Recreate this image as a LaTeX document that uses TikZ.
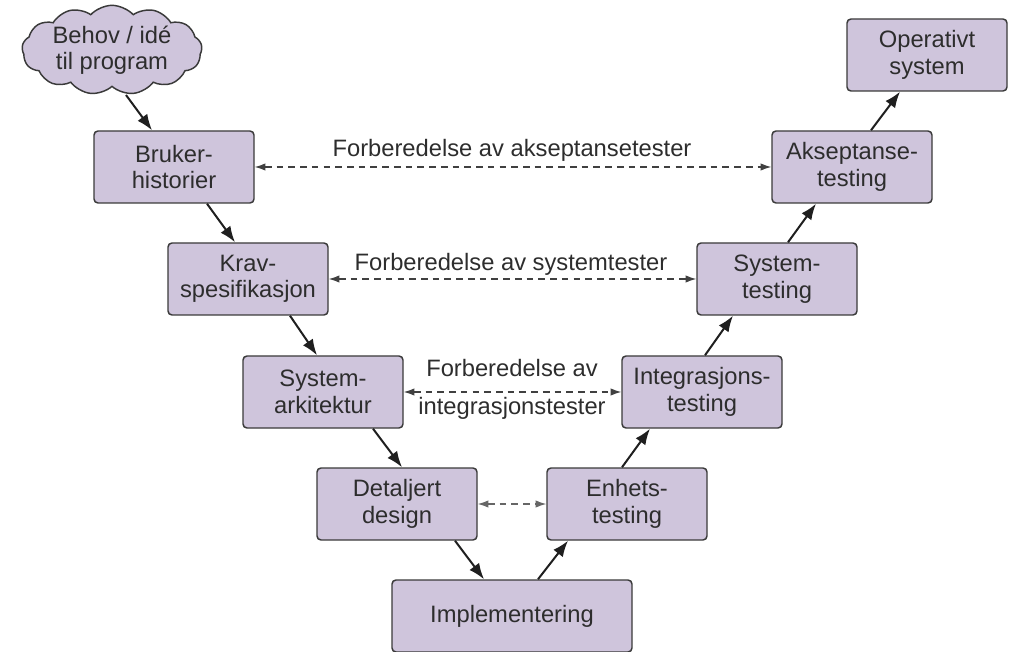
\documentclass[tikz,border=0pt]{standalone}
\usepackage{fontspec}
\setmainfont{Liberation Sans}
\usetikzlibrary{arrows.meta,calc,shapes.symbols}
\definecolor{boxfill}{RGB}{207,197,220}
\definecolor{boxline}{RGB}{58,58,58}
\definecolor{ink}{RGB}{45,45,45}
\begin{document}
\begin{tikzpicture}[x=0.75pt,y=-0.75pt,
  every node/.style={font=\fontsize{17.8}{19.8}\selectfont,text=ink},
  phase/.style={draw=boxline,line width=1.1pt,fill=boxfill,rounded corners=3pt,
    minimum width=120pt,minimum height=54pt,align=center,inner sep=2pt},
  idea/.style={cloud,cloud puffs=13,cloud puff arc=95,cloud ignores aspect,
    draw=boxline,line width=1.1pt,fill=boxfill,minimum width=135pt,minimum height=67pt,
    inner sep=0pt},
  flow/.style={-{Latex[length=12pt,width=9pt]},line width=1.5pt,draw=black!88},
  prep/.style={{Latex[length=8pt,width=5.5pt]}-{Latex[length=8pt,width=5.5pt]},
    line width=0.8pt,draw=black!75,dash pattern=on 5pt off 3.8pt},
  prepshort/.style={prep,draw=black!60},
  lbl/.style={anchor=base,inner sep=0pt}]
\useasboundingbox (0,0) rectangle (1018,652);

% left branch: specification
\node[idea]  (idea)   at (112,50)  {};
\node[align=center] (ideatext) at (idea.center) {Behov / idé\\til program};
\node[phase] (bruk)   at (174,167) {Bruker-\\historier};
\node[phase] (krav)   at (248,279) {Krav-\\spesifikasjon};
\node[phase] (sysark) at (323,392) {System-\\arkitektur};
\node[phase] (detal)  at (397,504) {Detaljert\\design};
% bottom
\node[phase,minimum width=180pt] (impl) at (512,616) {Implementering};
% right branch: testing
\node[phase] (enh)    at (627,504) {Enhets-\\testing};
\node[phase] (integr) at (702,392) {Integrasjons-\\testing};
\node[phase] (systest) at (777,279) {System-\\testing};
\node[phase] (aksept) at (852,167) {Akseptanse-\\testing};
\node[phase] (oper)   at (927,55)  {Operativt\\system};

% flow through the V
\draw[flow] ($(idea.center)+(14,45)$) -- ($(bruk.north)+(-22,0)$);
\draw[flow] ($(bruk.south)+(33,0)$) -- ($(krav.north)+(-13,0)$);
\draw[flow] ($(krav.south)+(42,0)$) -- ($(sysark.north)+(-6,0)$);
\draw[flow] ($(sysark.south)+(50,0)$) -- ($(detal.north)+(5,0)$);
\draw[flow] ($(detal.south)+(58,0)$) -- ($(impl.north)+(-28,0)$);
\draw[flow] ($(impl.north)+(26,0)$) -- ($(enh.south)+(-59,0)$);
\draw[flow] ($(enh.north)+(-5,0)$) -- ($(integr.south)+(-52,0)$);
\draw[flow] ($(integr.north)+(3,0)$) -- ($(systest.south)+(-44,0)$);
\draw[flow] ($(systest.north)+(11,0)$) -- ($(aksept.south)+(-36,0)$);
\draw[flow] ($(aksept.north)+(19,0)$) -- ($(oper.south)+(-27,0)$);

% test preparation links
\draw[prep] (bruk.east) -- (aksept.west);
\draw[prep] (krav.east) -- (systest.west);
\draw[prep] (sysark.east) -- (integr.west);
\draw[prepshort] (detal.east) -- (enh.west);

\node[lbl] (l1) at (512,157) {Forberedelse av akseptansetester};
\node[lbl] (l2) at (511,271) {Forberedelse av systemtester};
\node[lbl] (l3) at (512,377) {Forberedelse av};
\node[lbl] (l4) at (512,415) {integrasjonstester};
\end{tikzpicture}
\end{document}
